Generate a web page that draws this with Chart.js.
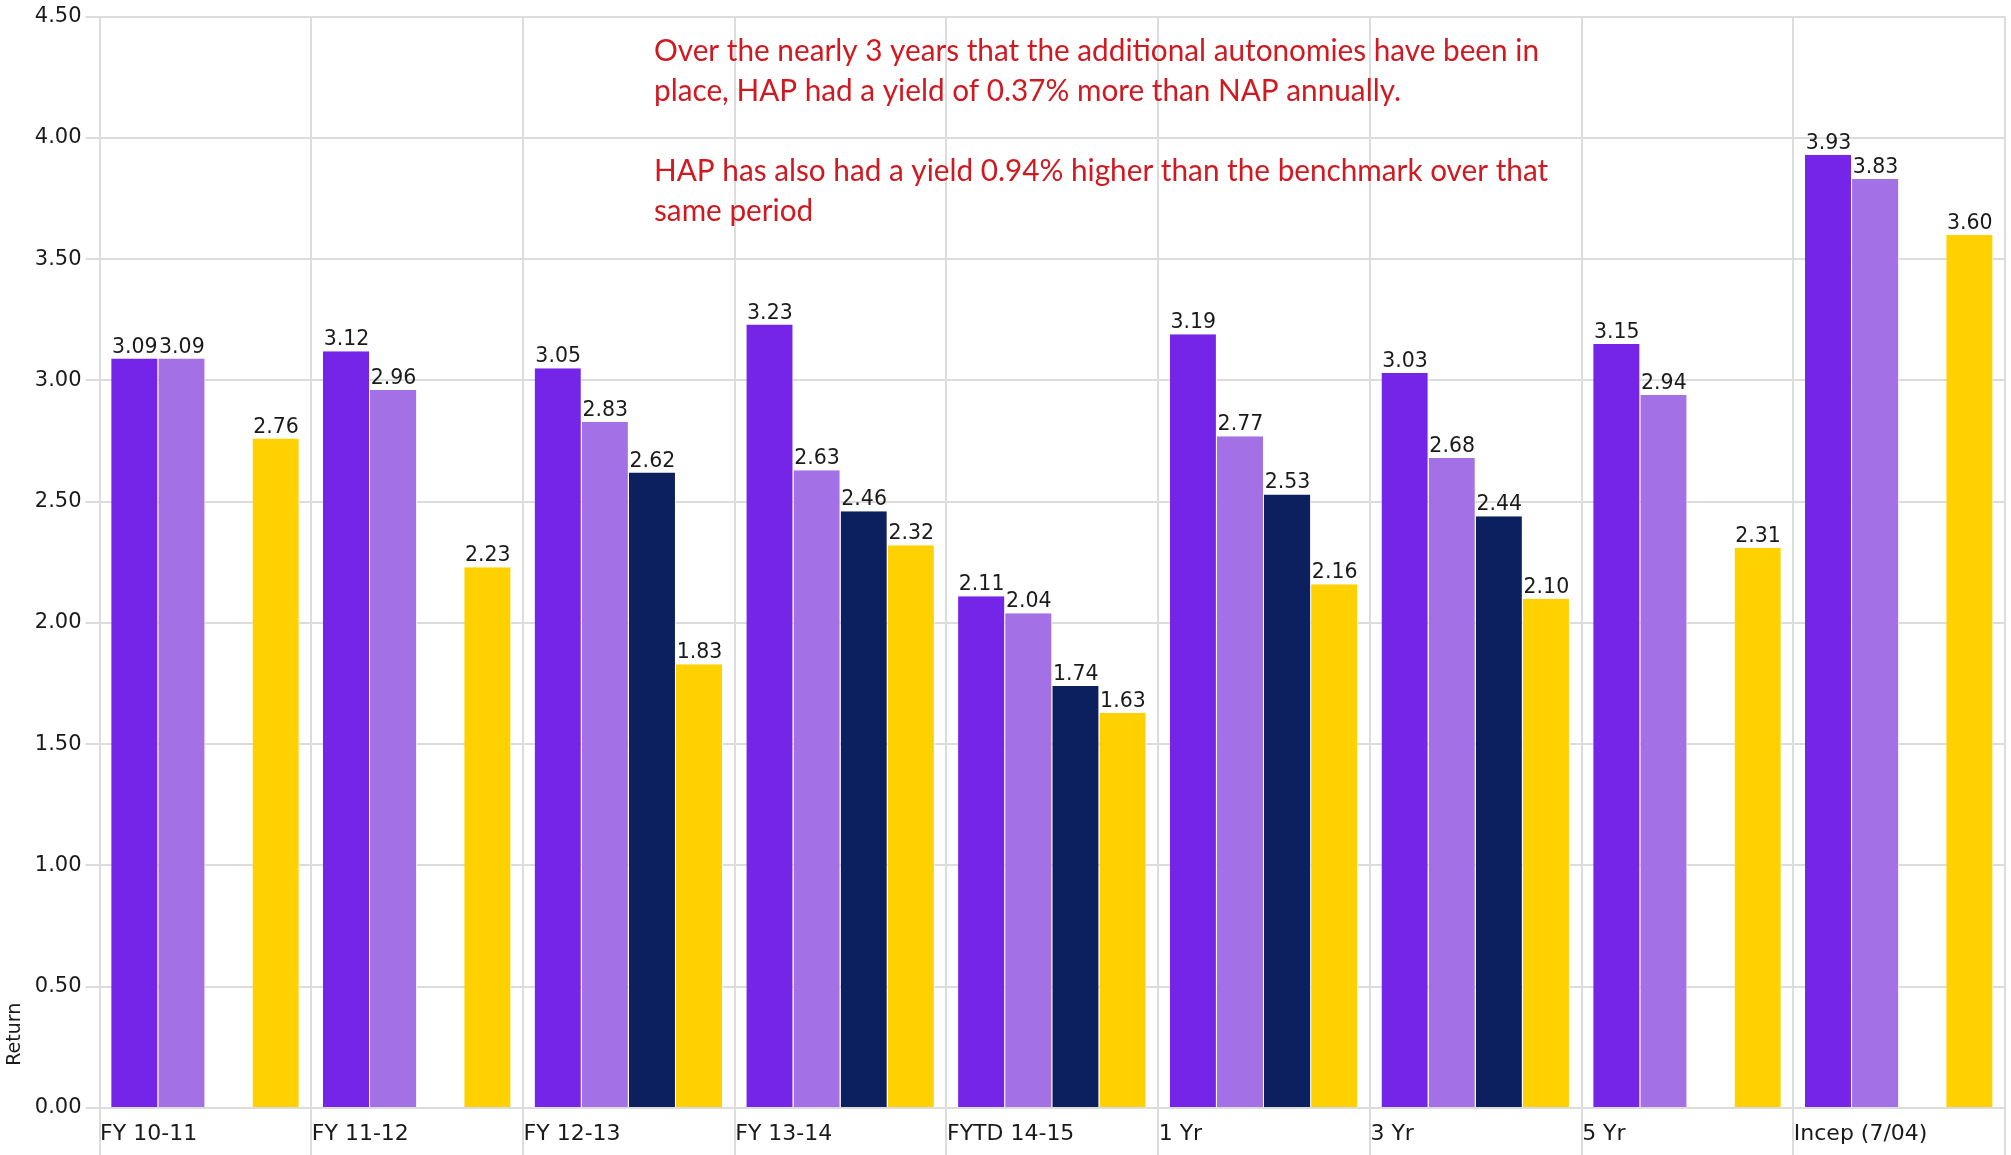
<!DOCTYPE html>
<html>
<head>
<meta charset="utf-8">
<script src="https://cdn.jsdelivr.net/npm/chart.js@4"></script>
<style>
  html, body { margin: 0; padding: 0; background: #fff; }
  #wrap { width: 2011px; height: 1155px; }
</style>
</head>
<body>
<div id="wrap"><canvas id="c"></canvas></div>
<script>
const categories = ['FY 10-11', 'FY 11-12', 'FY 12-13', 'FY 13-14', 'FYTD 14-15', '1 Yr', '3 Yr', '5 Yr', 'Incep (7/04)'];
const hapValues = [3.09, 3.12, 3.05, 3.23, 2.11, 3.19, 3.03, 3.15, 3.93];
const napValues = [3.09, 2.96, 2.83, 2.63, 2.04, 2.77, 2.68, 2.94, 3.83];
const otherValues = [null, null, 2.62, 2.46, 1.74, 2.53, 2.44, null, null];
const benchmarkValues = [2.76, 2.23, 1.83, 2.32, 1.63, 2.16, 2.10, 2.31, 3.60];
const yTicks = [0, 0.5, 1, 1.5, 2, 2.5, 3, 3.5, 4, 4.5];
const noteLines = [
  'Over the nearly 3 years that the additional autonomies have been in',
  'place, HAP had a yield of 0.37% more than NAP annually.',
  '',
  'HAP has also had a yield 0.94% higher than the benchmark over that',
  'same period'
];

const FONT = "'DejaVu Sans', Verdana, sans-serif";

const valueLabels = {
  id: 'valueLabels',
  afterDatasetsDraw(chart) {
    const ctx = chart.ctx;
    ctx.save();
    ctx.font = '20.5px ' + FONT;
    ctx.fillStyle = '#1a1a1a';
    ctx.textAlign = 'center';
    ctx.textBaseline = 'alphabetic';
    chart.data.datasets.forEach((ds, di) => {
      const meta = chart.getDatasetMeta(di);
      meta.data.forEach((el, i) => {
        const v = ds.data[i];
        if (v === null || v === undefined) return;
        ctx.fillText(v.toFixed(2), el.x, el.y - 6);
      });
    });
    ctx.restore();
  }
};

const note = {
  id: 'note',
  afterDraw(chart) {
    const ctx = chart.ctx;
    ctx.save();
    ctx.font = "30px Lato, 'Open Sans', sans-serif";
    ctx.fillStyle = '#cf1a22';
    ctx.textAlign = 'left';
    ctx.textBaseline = 'alphabetic';
    const w = ctx.measureText(noteLines[0]).width;
    const sx = 885 / w;
    const x0 = 654;
    noteLines.forEach((line, i) => {
      if (!line) return;
      ctx.save();
      ctx.translate(x0, 61 + i * 40);
      ctx.scale(sx, 1);
      ctx.fillText(line, 0, 0);
      ctx.restore();
    });
    ctx.restore();
  }
};

new Chart(document.getElementById('c'), {
  type: 'bar',
  data: {
    labels: categories,
    datasets: [
      { label: 'HAP', data: hapValues, backgroundColor: '#7525e8' },
      { label: 'NAP', data: napValues, backgroundColor: '#a470e6' },
      { label: 'Other', data: otherValues, backgroundColor: '#0c1f5e' },
      { label: 'Benchmark', data: benchmarkValues, backgroundColor: '#ffd100' }
    ]
  },
  options: {
    responsive: true,
    maintainAspectRatio: false,
    animation: false,
    devicePixelRatio: 1,
    layout: { padding: { top: 2, right: 6, left: 0, bottom: 0 } },
    datasets: {
      bar: {
        categoryPercentage: 0.89,
        barPercentage: 1.0,
        borderColor: '#ffffff',
        borderWidth: { top: 0, right: 1, bottom: 0, left: 0 },
        borderSkipped: false
      }
    },
    plugins: {
      legend: { display: false },
      tooltip: { enabled: false },
      title: { display: false }
    },
    scales: {
      x: {
        type: 'category',
        grid: { color: '#dcdcdc', lineWidth: 2, offset: true, tickLength: 49, drawTicks: true },
        border: { color: '#dcdcdc', width: 2 },
        ticks: {
          align: 'start',
          labelOffset: -105.3,
          padding: -36,
          maxRotation: 0,
          autoSkip: false,
          color: '#1a1a1a',
          font: { family: FONT, size: 22 }
        },
        afterFit(scale) {
          scale.paddingLeft = 0;
          scale.paddingRight = 0;
          scale.height = 47;
        }
      },
      y: {
        min: 0,
        max: 4.5,
        afterBuildTicks(scale) { scale.ticks = yTicks.map(v => ({ value: v })); },
        grid: { color: '#dcdcdc', lineWidth: 2, tickLength: 14 },
        border: { color: '#dcdcdc', width: 2 },
        ticks: {
          padding: 4,
          color: '#1a1a1a',
          font: { family: FONT, size: 21 },
          callback: (v) => Number(v).toFixed(2)
        },
        title: {
          display: true,
          text: '       Return',
          align: 'start',
          color: '#1a1a1a',
          font: { family: FONT, size: 19 },
          padding: { top: 4, bottom: 4 }
        }
      }
    }
  },
  plugins: [valueLabels, note]
});
</script>
</body>
</html>
